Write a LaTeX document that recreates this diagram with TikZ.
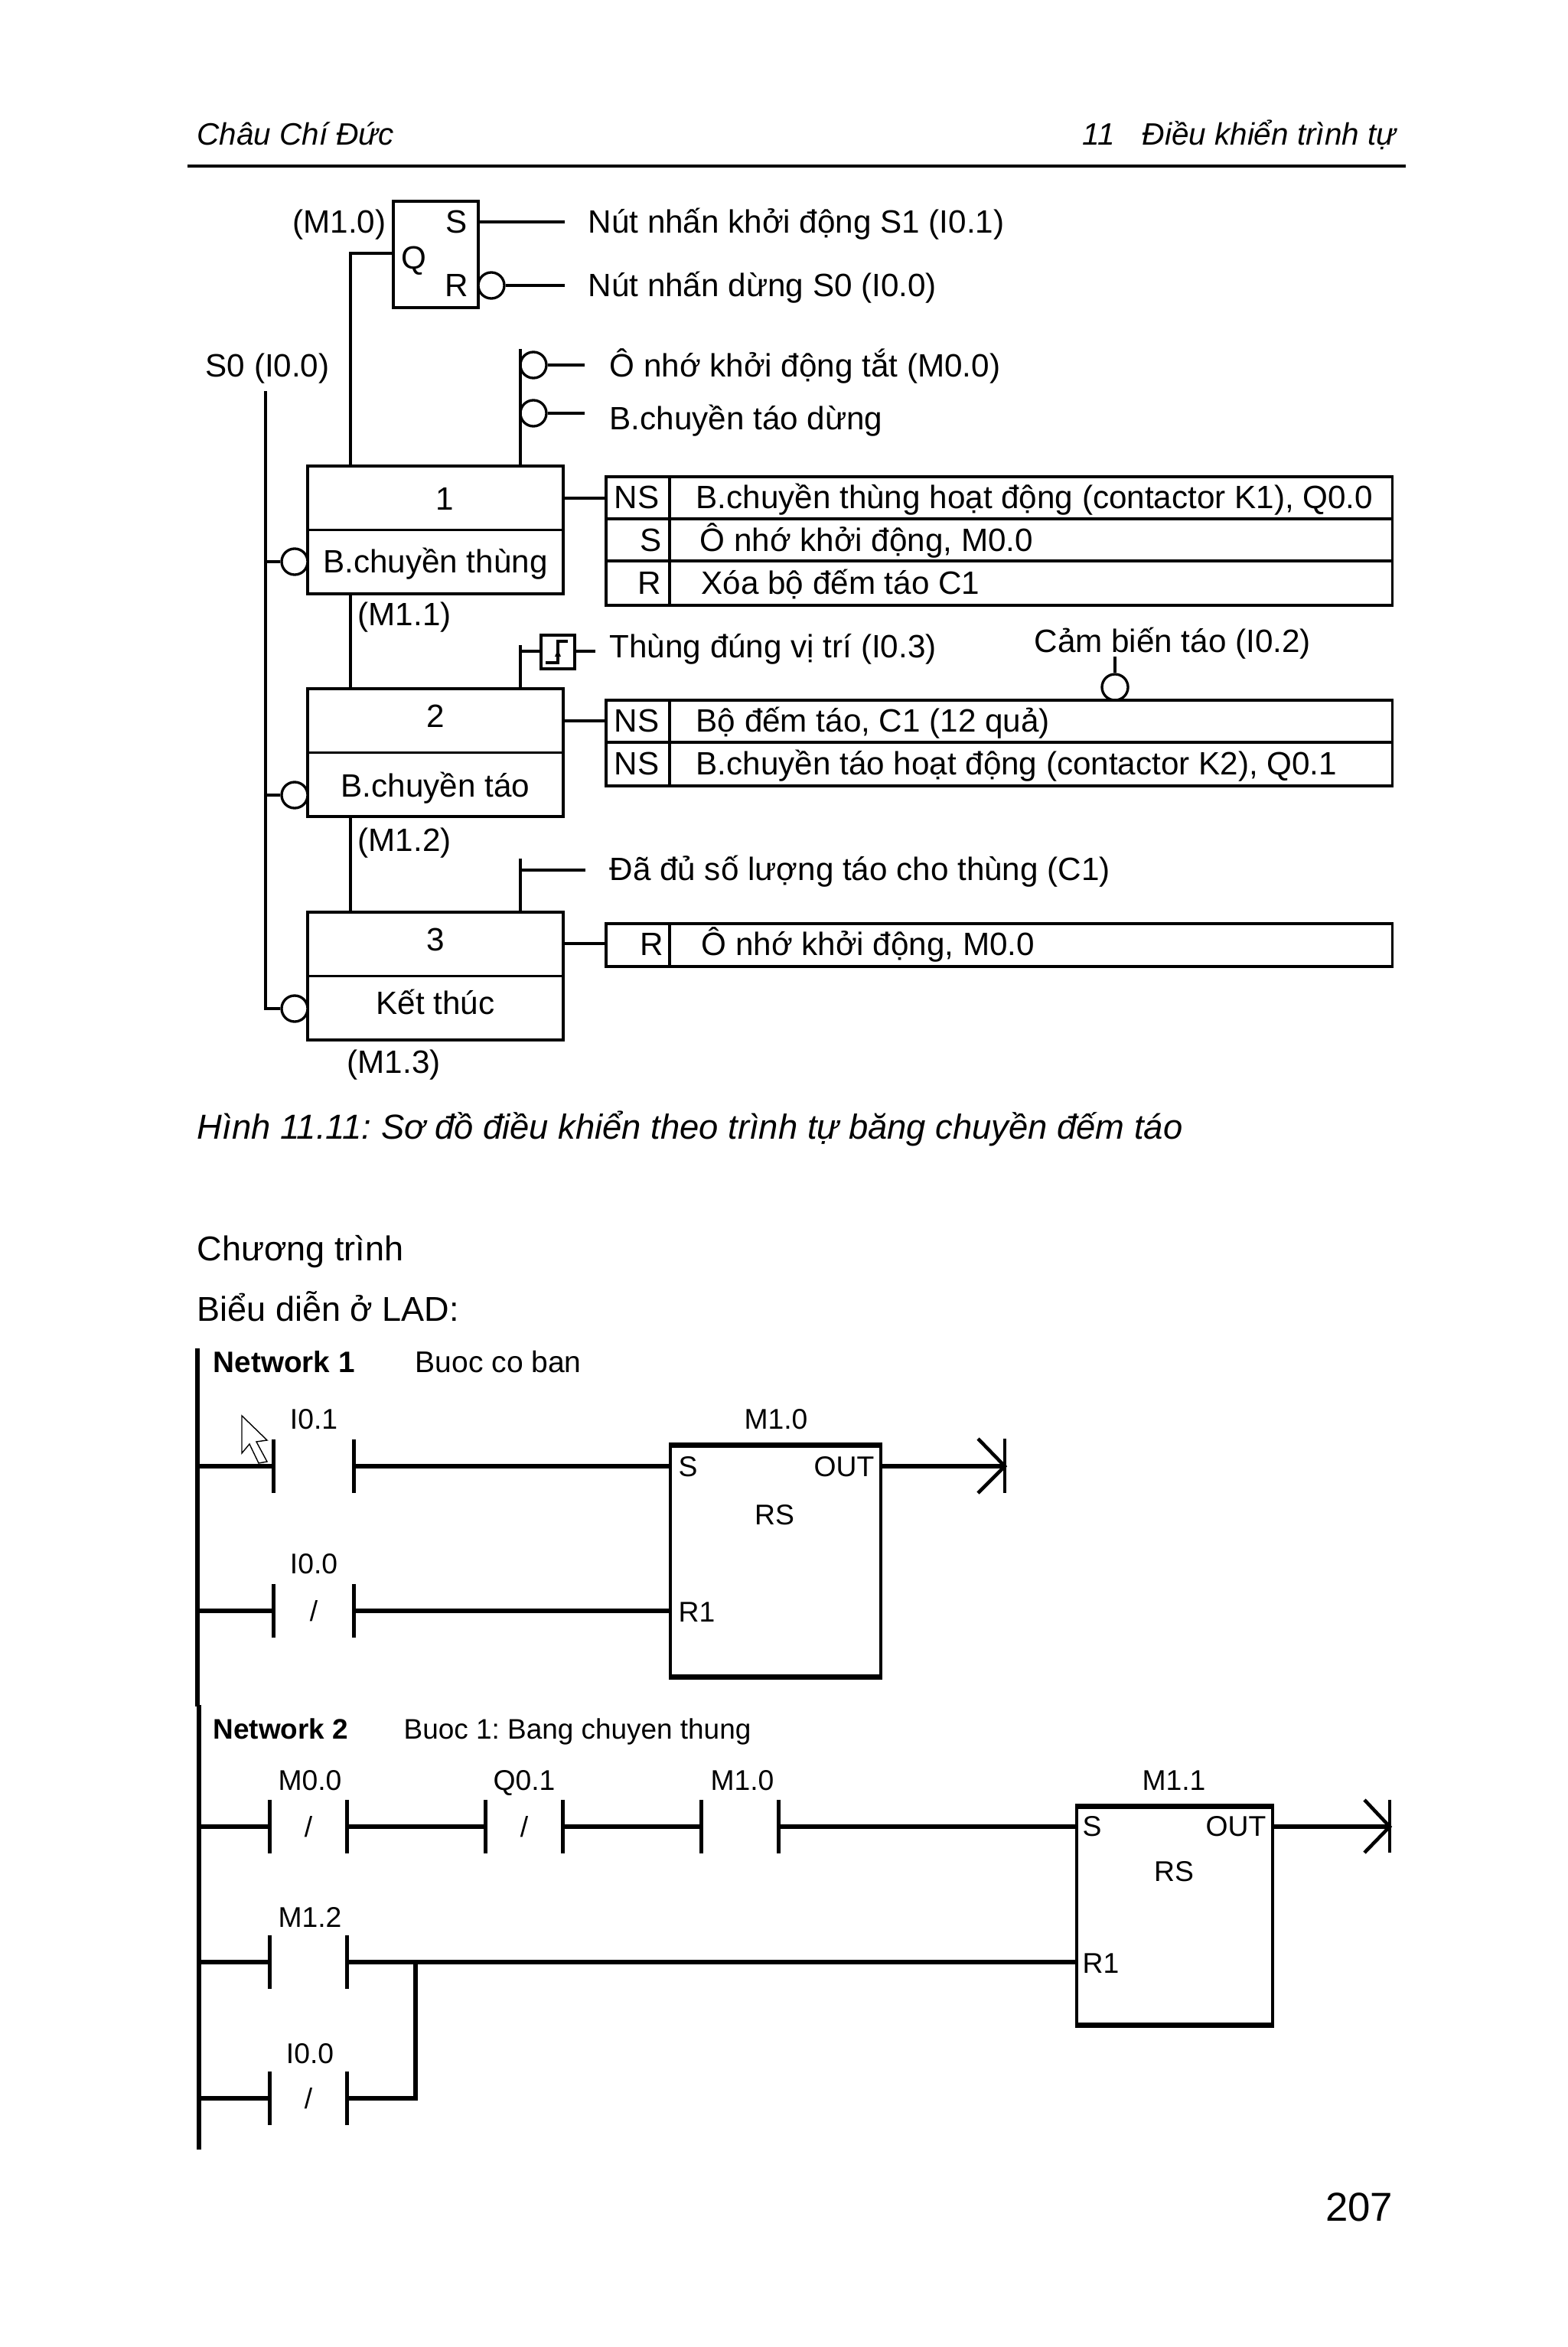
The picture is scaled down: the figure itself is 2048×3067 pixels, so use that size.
\documentclass[tikz,border=0pt]{standalone}
\usepackage{fontspec}
\setmainfont{Liberation Sans}
\usepackage{tikz}
\usetikzlibrary{calc}

\begin{document}
\frenchspacing
\begin{tikzpicture}[x=0.01cm,y=-0.01cm,
  txt/.style={font=\fontsize{12}{14}\selectfont,inner sep=0pt},
  body/.style={font=\fontsize{12.8}{15}\selectfont,inner sep=0pt},
  ital/.style={font=\itshape\fontsize{12.9}{15}\selectfont,inner sep=0pt},
  headtxt/.style={font=\itshape\fontsize{11.5}{14}\selectfont,inner sep=0pt},
  ladtxt/.style={font=\fontsize{10.6}{12}\selectfont,inner sep=0pt},
  nettxt/.style={font=\bfseries\fontsize{11}{12}\selectfont,inner sep=0pt},
  ln/.style={line width=0.95pt},
  box/.style={draw,line width=1.1pt,rectangle,inner sep=0pt},
  stepbox/.style={box,anchor=north west,minimum width=3.34cm,minimum height=1.67cm},
  tabbox/.style={box,anchor=north west,minimum width=10.27cm},
  inv/.style={draw,line width=0.95pt,circle,fill=white,minimum size=0.34cm,inner sep=0pt},
  wire/.style={line width=1.5pt},
  bar/.style={line width=1.3pt},
  contact/.style={ladtxt,minimum width=1cm,minimum height=0.69cm},
  rsbox/.style={draw,line width=1.2pt,rectangle,anchor=north west,inner sep=0pt}]
\useasboundingbox (0,0) rectangle (2048,3067);
% page head
\node[headtxt,anchor=base west] (head) at (257,190) {Châu Chí Đức};
\node[headtxt,anchor=base east] (chap) at (1825,190) {11\hspace{0.9em}Điều khiển trình tự};
\coordinate (rulea) at (245,217);
\coordinate (ruleb) at (1837,217);
\draw[ln] (rulea) -- (ruleb);
% flip-flop
\node[box,anchor=north west,minimum width=1.11cm,minimum height=1.39cm] (sr) at (512,261) {};
\node[txt,anchor=base east] (m10) at (505,305) {(M1.0)};
\node[txt,anchor=base] (srs) at (597,305) {S};
\node[txt,anchor=base] (srq) at (541,352) {Q};
\node[txt,anchor=base] (srr) at (597,388) {R};
\node[inv] (invr) at (642,373) {};
\coordinate (send) at (738,290);
\coordinate (rend) at (738,373);
\draw[ln] (send -| sr.east) -- (send);
\draw[ln] (invr.east) -- (rend);
\node[txt,anchor=base west] (btn1) at (768,305) {Nút nhấn khởi động S1 (I0.1)};
\node[txt,anchor=base west] (btn0) at (768,388) {Nút nhấn dừng S0 (I0.0)};
% steps
\node[stepbox] (step1) at (400,607) {};
\node[stepbox] (step2) at (400,898) {};
\node[stepbox] (step3) at (400,1190) {};
\draw[ln] (step1.west) -- (step1.east);
\draw[ln] (step2.west) -- (step2.east);
\draw[ln] (step3.west) -- (step3.east);
\node[txt,anchor=base] (num1) at (581,666) {1};
\node[txt,anchor=base] (name1) at (569,748) {B.chuyền thùng};
\node[txt,anchor=base] (num2) at (569,950) {2};
\node[txt,anchor=base] (name2) at (569,1041) {B.chuyền táo};
\node[txt,anchor=base] (num3) at (569,1242) {3};
\node[txt,anchor=base] (name3) at (569,1325) {Kết thúc};
\node[txt,anchor=base west] (m11) at (467,817) {(M1.1)};
\node[txt,anchor=base west] (m12) at (467,1112) {(M1.2)};
\node[txt,anchor=base west] (m13) at (453,1402) {(M1.3)};
\coordinate (q) at (512,331);
\coordinate (seq) at (458,609);
\draw[ln] (q) -| (seq);
\draw[ln] (step1.south -| seq) -- (step2.north -| seq);
\draw[ln] (step2.south -| seq) -- (step3.north -| seq);
% S0 bus
\node[txt,anchor=base west] (s0) at (268,492) {S0 (I0.0)};
\node[inv] (inv1) at (385,734) {};
\node[inv] (inv2) at (385,1039) {};
\node[inv] (inv3) at (385,1318) {};
\coordinate (bus) at (347,511);
\draw[ln] (bus) -- (bus |- inv3) -- (inv3.west);
\draw[ln] (bus |- inv1) -- (inv1.west);
\draw[ln] (bus |- inv2) -- (inv2.west);
% conditions
\coordinate (cond1) at (680,456);
\node[inv] (invm) at (697,477) {};
\node[inv] (invb) at (697,540) {};
\coordinate (mend) at (764,477);
\coordinate (bend) at (764,540);
\draw[ln] (cond1) -- (step1.north -| cond1);
\draw[ln] (invm.east) -- (mend);
\draw[ln] (invb.east) -- (bend);
\node[txt,anchor=base west] (lblm) at (796,492) {Ô nhớ khởi động tắt (M0.0)};
\node[txt,anchor=base west] (lblb) at (796,561) {B.chuyền táo dừng};
\node[box,minimum width=0.44cm,minimum height=0.44cm] (edge) at (729,852) {};
\draw[ln] (713,866) -- (729,866) -- (729,838) -- (742,838);
\fill (729,849) -- (733,858) -- (725,858) -- cycle;
\coordinate (cond2) at (680,843);
\coordinate (eend) at (778,851);
\draw[ln] (cond2) -- (step2.north -| cond2);
\draw[ln] (cond2 |- eend) -- (edge.west |- eend);
\draw[ln] (edge.east |- eend) -- (eend);
\node[txt,anchor=base west] (lble) at (796,859) {Thùng đúng vị trí (I0.3)};
\node[txt,anchor=base west] (lblc) at (1351,852) {Cảm biến táo (I0.2)};
\coordinate (sens) at (1457,858);
\node[inv] (invs) at (1457,898) {};
\draw[ln] (sens) -- (invs.north);
\coordinate (cond3) at (680,1122);
\coordinate (cend) at (765,1137);
\draw[ln] (cond3) -- (step3.north -| cond3);
\draw[ln] (cond3 |- cend) -- (cend);
\node[txt,anchor=base west] (lblf) at (796,1150) {Đã đủ số lượng táo cho thùng (C1)};
% action tables
\node[tabbox,minimum height=1.68cm] (tab1) at (790,621) {};
\node[tabbox,minimum height=1.12cm] (tab2) at (790,913) {};
\node[tabbox,minimum height=0.56cm] (tab3) at (790,1205) {};
\coordinate (col) at (875,622);
\draw[ln] (col) -- (col |- tab1.south);
\draw[ln] (col |- tab2.north) -- (col |- tab2.south);
\draw[ln] (col |- tab3.north) -- (col |- tab3.south);
\draw[ln] (792,678) -- (1819,678);
\draw[ln] (792,733) -- (1819,733);
\draw[ln] (792,970) -- (1819,970);
\coordinate (act1) at (792,651);
\coordinate (act2) at (792,942);
\coordinate (act3) at (792,1233);
\draw[ln] (act1 -| step1.east) -- (act1);
\draw[ln] (act2 -| step2.east) -- (act2);
\draw[ln] (act3 -| step3.east) -- (act3);
\node[txt,anchor=base east] (q11) at (862,664) {NS};
\node[txt,anchor=base east] (q12) at (865,720) {S};
\node[txt,anchor=base east] (q13) at (865,776) {R};
\node[txt,anchor=base west] (a11) at (909,664) {B.chuyền thùng hoạt động (contactor K1), Q0.0};
\node[txt,anchor=base west] (a12) at (914,720) {Ô nhớ khởi động, M0.0};
\node[txt,anchor=base west] (a13) at (916,776) {Xóa bộ đếm táo C1};
\node[txt,anchor=base east] (q21) at (862,956) {NS};
\node[txt,anchor=base east] (q22) at (862,1012) {NS};
\node[txt,anchor=base west] (a21) at (909,956) {Bộ đếm táo, C1 (12 quả)};
\node[txt,anchor=base west] (a22) at (909,1012) {B.chuyền táo hoạt động (contactor K2), Q0.1};
\node[txt,anchor=base east] (q31) at (868,1248) {R};
\node[txt,anchor=base west] (a31) at (916,1248) {Ô nhớ khởi động, M0.0};
% body text
\node[ital,anchor=base west] (capt) at (257,1488) {Hình 11.11: Sơ đồ điều khiển theo trình tự băng chuyền đếm táo};
\node[body,anchor=base west] (prog) at (257,1647) {Chương trình};
\node[body,anchor=base west] (lad) at (257,1726) {Biểu diễn ở LAD:};
% network 1
\coordinate (rail1a) at (258,1762);
\coordinate (rail1b) at (258,2230);
\draw[wire] (rail1a) -- (rail1b);
\node[nettxt,anchor=base west] (net1) at (278,1793) {Network 1};
\node[ladtxt,font=\fontsize{11.1}{12}\selectfont,anchor=base west] (com1) at (542,1793) {Buoc co ban};
\node[contact,minimum width=1.04cm] (c11) at (410,1916) {};
\node[contact,minimum width=1.04cm] (c12) at (410,2105) {/};
\draw[bar] (c11.north west) -- (c11.south west);
\draw[bar] (c11.north east) -- (c11.south east);
\draw[bar] (c12.north west) -- (c12.south west);
\draw[bar] (c12.north east) -- (c12.south east);
\node[ladtxt,anchor=base] (l11) at (410,1867) {I0.1};
\node[ladtxt,anchor=base] (l12) at (410,2056) {I0.0};
\node[rsbox,minimum width=2.75cm,minimum height=3.0cm] (rs1) at (874,1888) {};
\draw[wire] (rs1.north west) -- (rs1.north east);
\draw[wire] (rs1.south west) -- (rs1.south east);
\draw[wire] (c11.west -| rail1a) -- (c11.west);
\draw[wire] (c11.east) -- (c11.east -| rs1.west);
\draw[wire] (c12.west -| rail1a) -- (c12.west);
\draw[wire] (c12.east) -- (c12.east -| rs1.west);
\coordinate (out1) at (1313,1916);
\draw[wire] (out1 -| rs1.east) -- (out1);
\draw[bar] (out1) ++(0,-36) -- ++(0,71);
\draw[bar] (out1) ++(-35,-36) -- (out1) -- ++(-35,35);
\node[ladtxt,anchor=base] (m1a) at (1014,1867) {M1.0};
\node[ladtxt,anchor=base west] (s1a) at (886,1929) {S};
\node[ladtxt,anchor=base east] (o1a) at (1143,1929) {OUT};
\node[ladtxt,anchor=base] (t1a) at (1012,1992) {RS};
\node[ladtxt,anchor=base west] (r1a) at (886,2119) {R1};
% mouse pointer
\draw[line width=0.4pt,fill=white] (316,1850) -- (349,1882) -- (335,1884) -- (349,1910) -- (338,1912) -- (326,1887) -- (316,1899) -- cycle;
% network 2
\coordinate (rail2a) at (260,2228);
\coordinate (rail2b) at (260,2809);
\draw[wire] (rail2a) -- (rail2b);
\node[nettxt,font=\bfseries\fontsize{10.5}{12}\selectfont,anchor=base west] (net2) at (278,2272) {Network 2};
\node[ladtxt,font=\fontsize{10.5}{12}\selectfont,anchor=base west] (com2) at (527,2272) {Buoc 1: Bang chuyen thung};
\node[contact] (c21) at (403,2387) {/};
\node[contact] (c22) at (685,2387) {/};
\node[contact] (c23) at (967,2387) {};
\node[contact] (c24) at (403,2564) {};
\node[contact] (c25) at (403,2742) {/};
\draw[bar] (c21.north west) -- (c21.south west);
\draw[bar] (c21.north east) -- (c21.south east);
\draw[bar] (c22.north west) -- (c22.south west);
\draw[bar] (c22.north east) -- (c22.south east);
\draw[bar] (c23.north west) -- (c23.south west);
\draw[bar] (c23.north east) -- (c23.south east);
\draw[bar] (c24.north west) -- (c24.south west);
\draw[bar] (c24.north east) -- (c24.south east);
\draw[bar] (c25.north west) -- (c25.south west);
\draw[bar] (c25.north east) -- (c25.south east);
\node[ladtxt,anchor=base] (l21) at (405,2339) {M0.0};
\node[ladtxt,anchor=base] (l22) at (685,2339) {Q0.1};
\node[ladtxt,anchor=base] (l23) at (970,2339) {M1.0};
\node[ladtxt,anchor=base] (l24) at (405,2518) {M1.2};
\node[ladtxt,anchor=base] (l25) at (405,2696) {I0.0};
\node[rsbox,minimum width=2.56cm,minimum height=2.83cm] (rs2) at (1405,2360) {};
\draw[wire] (rs2.north west) -- (rs2.north east);
\draw[wire] (rs2.south west) -- (rs2.south east);
\draw[wire] (c21.west -| rail2a) -- (c21.west);
\draw[wire] (c21.east) -- (c22.west);
\draw[wire] (c22.east) -- (c23.west);
\draw[wire] (c23.east) -- (c23.east -| rs2.west);
\draw[wire] (c24.west -| rail2a) -- (c24.west);
\draw[wire] (c24.east) -- (c24.east -| rs2.west);
\draw[wire] (c25.west -| rail2a) -- (c25.west);
\coordinate (join) at (543,2564);
\draw[wire] (c25.east) -| (join);
\coordinate (out2) at (1816,2387);
\draw[wire] (out2 -| rs2.east) -- (out2);
\draw[bar] (out2) ++(0,-35) -- ++(0,69);
\draw[bar] (out2) ++(-33,-35) -- (out2) -- ++(-33,34);
\node[ladtxt,anchor=base] (m1b) at (1534,2339) {M1.1};
\node[ladtxt,anchor=base west] (s1b) at (1414,2399) {S};
\node[ladtxt,anchor=base east] (o1b) at (1655,2399) {OUT};
\node[ladtxt,anchor=base] (t1b) at (1534,2458) {RS};
\node[ladtxt,anchor=base west] (r1b) at (1414,2578) {R1};
% page number
\node[font=\fontsize{15}{18}\selectfont,inner sep=0pt,anchor=base east] (page) at (1821,2902) {207};
\end{tikzpicture}
\end{document}
